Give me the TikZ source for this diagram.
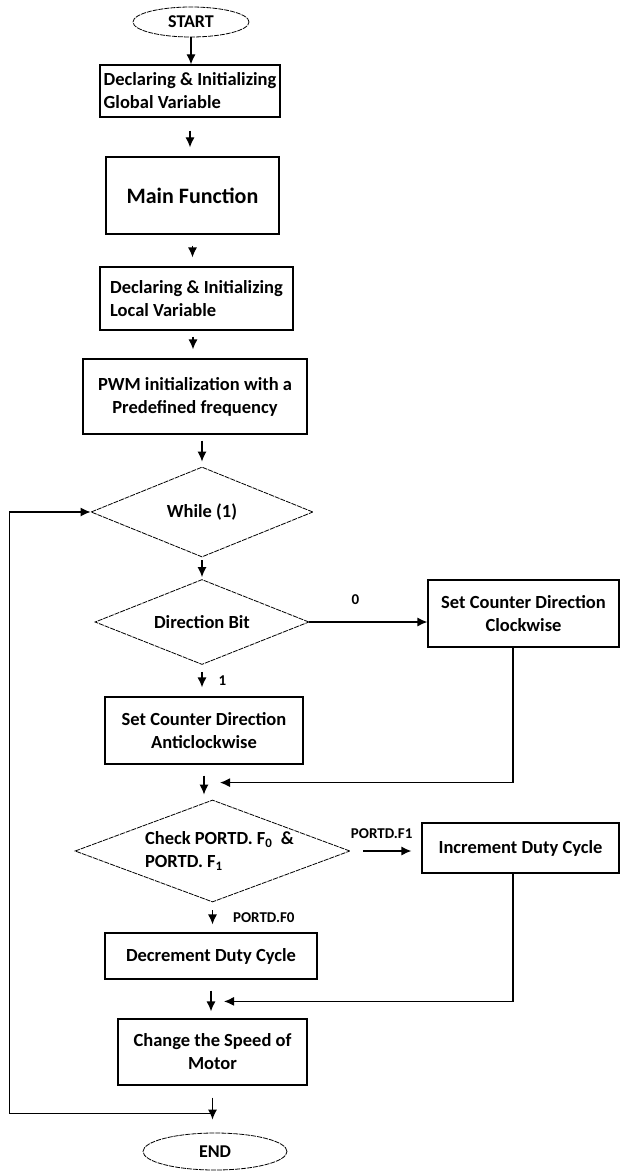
\documentclass[tikz,border=0pt]{standalone}
\usepackage{fontspec}
\setmainfont{Carlito}
\usepackage{tikz}
\usetikzlibrary{shapes.geometric,arrows.meta}

\newcommand{\boxfont}{\fontsize{18.5}{23}\selectfont\bfseries}
\newcommand{\bigfont}{\fontsize{22}{26}\selectfont\bfseries}
\newcommand{\termfont}{\fontsize{18}{22}\selectfont\bfseries}
\newcommand{\lblfont}{\fontsize{15}{18}\selectfont\bfseries}

\begin{document}
\begin{tikzpicture}[x=1pt, y=-1pt,
  box/.style={draw, line width=1.2pt, font=\boxfont, align=center, inner sep=2pt},
  dia/.style={draw, diamond, line width=0.8pt, dash pattern=on 5pt off 1pt, font=\boxfont, inner sep=0pt},
  term/.style={draw, ellipse, line width=0.8pt, dash pattern=on 5pt off 1pt, font=\termfont, inner sep=0pt},
  arr/.style={-{Latex[length=10pt, width=9pt]}, line width=1.2pt},
  lbl/.style={font=\lblfont, inner sep=0pt}]
\useasboundingbox (0,0) rectangle (622,1174);
\node [term, minimum width=116pt, minimum height=30pt] (start) at (191,22) {START};
\node [box, align=left, minimum width=180pt, minimum height=52pt] (gvar) at (190,91) {Declaring \& Initializing\\Global Variable};
\node [box, font=\bigfont, minimum width=173pt, minimum height=77pt] (mainfn) at (192.5,195.5) {Main Function};
\node [box, align=left, minimum width=193pt, minimum height=63pt] (lvar) at (196.5,298.5) {Declaring \& Initializing\\Local Variable};
\node [box, minimum width=224pt, minimum height=75pt] (pwm) at (195,396.5) {PWM initialization with a\\Predefined frequency};
\node [dia, minimum width=222pt, minimum height=90pt, aspect=2.47] (while) at (202,512) {While (1)};
\node [dia, minimum width=214pt, minimum height=85pt, aspect=2.5] (dirbit) at (202,622) {Direction Bit};
\node [box, minimum width=191pt, minimum height=67pt] (cw) at (523.5,613.5) {Set Counter Direction\\Clockwise};
\node [box, minimum width=198pt, minimum height=67pt] (acw) at (204,730.5) {Set Counter Direction\\Anticlockwise};
\node [dia, align=left, minimum width=275pt, minimum height=102pt, aspect=2.7] (check) at (212.5,851) {\hspace*{14pt}Check PORTD. F\textsubscript{0}~ \&\\\hspace*{14pt}PORTD. F\textsubscript{1}};
\node [box, minimum width=197pt, minimum height=50pt] (inc) at (520.5,848) {Increment Duty Cycle};
\node [box, minimum width=212pt, minimum height=46pt] (dec) at (211,956) {Decrement Duty Cycle};
\node [box, minimum width=189pt, minimum height=66pt] (speed) at (212.5,1052) {Change the Speed of\\Motor};
\node [term, minimum width=144pt, minimum height=37pt] (stop) at (215,1151.5) {END};
\draw [arr] (start.south) -- (start.south |- gvar.north);
\draw [arr, shorten <=13pt, shorten >=9pt] (gvar.south) -- (gvar.south |- mainfn.north);
\draw [arr, shorten <=11pt, shorten >=9pt] (mainfn.south) -- (mainfn.south |- lvar.north);
\draw [arr, shorten <=6pt, shorten >=9pt] ([xshift=-3.5pt]lvar.south) -- ([xshift=-3.5pt]lvar.south |- pwm.north);
\draw [arr, shorten <=6pt, shorten >=5pt] (while.north |- pwm.south) -- (while.north);
\draw [arr, shorten <=3pt, shorten >=2pt] (while.south) -- (dirbit.north);
\draw [arr] (dirbit.east) -- node[lbl, pos=0.39, above=17pt] {0} (dirbit.east -| cw.west);
\draw [arr, shorten <=7pt, shorten >=9pt] (dirbit.south) -- node[lbl, right=16pt] {1} (dirbit.south |- acw.north);
\draw [arr, shorten <=11pt, shorten >=5pt] (acw.south) -- (acw.south |- check.north);
\draw [arr] ([xshift=-10.5pt]cw.south) |- ([xshift=7.5pt, yshift=17pt]check.north);
\draw [arr, shorten <=13pt, shorten >=10pt] (check.east) -- node[lbl, pos=0.44, above=12pt] {PORTD.F1} (check.east -| inc.west);
\draw [arr, shorten <=8pt, shorten >=8pt] (check.south) -- node[lbl, right=20pt, anchor=west] {PORTD.F0} (check.south |- dec.north);
\draw [arr, shorten <=11pt, shorten >=7pt] (dec.south) -- (dec.south |- speed.north);
\draw [arr] ([xshift=-7.5pt]inc.south) |- ([xshift=11.5pt, yshift=17pt]speed.north);
\draw [arr, shorten <=12pt, shorten >=13pt] (speed.south) -- (speed.south |- stop.north);
\draw [arr] ([yshift=-28pt]speed.south) -| ([xshift=-81pt]while.west) -- (while.west);
\end{tikzpicture}
\end{document}
